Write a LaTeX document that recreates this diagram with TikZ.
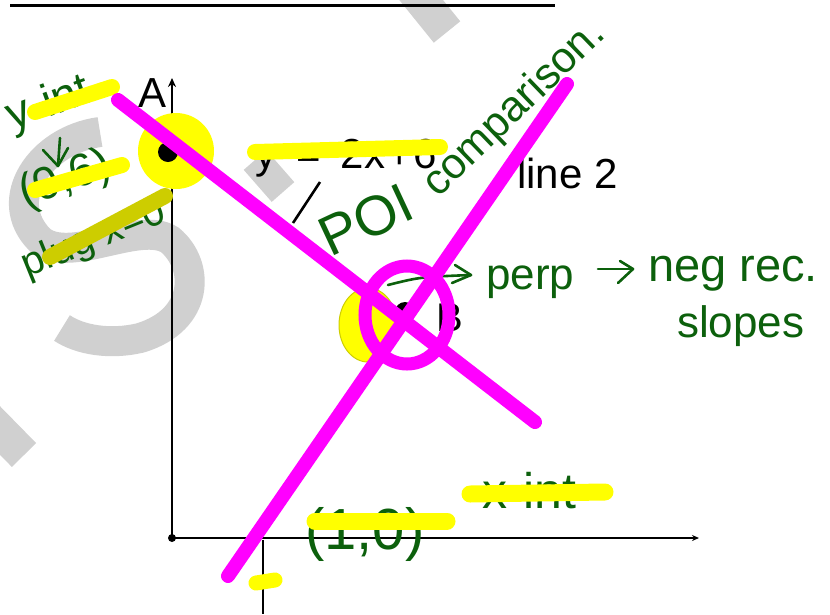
\documentclass[tikz,border=0pt]{standalone}
\usepackage{fontspec}
\setmainfont{Liberation Sans}
\usetikzlibrary{arrows.meta}
\definecolor{hw}{RGB}{12,96,12}
\definecolor{mag}{RGB}{255,0,255}
\definecolor{hl}{RGB}{255,255,0}
\definecolor{hldark}{RGB}{205,205,0}
\definecolor{wm}{RGB}{208,208,208}
\newcommand{\hwsize}[1]{\fontsize{#1}{#1}\selectfont}
\begin{document}
\begin{tikzpicture}[x=1pt,y=-1pt,
  wmark/.style={line width=30pt,color=wm},
  axisline/.style={line width=2.6pt,black},
  hilite/.style={line width=16pt,color=hl,line cap=round},
  magline/.style={line width=14pt,color=mag,line cap=round},
  hwtext/.style={text=hw,inner sep=0pt,anchor=base west},
  hwpen/.style={line width=2.6pt,color=hw,line cap=round,line join=round},
  lbl/.style={inner sep=0pt,anchor=base west,text=black}]
\useasboundingbox (0,0) rectangle (830,614);
\fill[white] (0,0) rectangle (830,614);
% watermark
\draw[wmark] (100,132) .. controls (40,140) and (0,200) .. (40,240)
  .. controls (70,265) and (140,220) .. (170,240)
  .. controls (200,265) and (200,320) .. (140,338)
  .. controls (110,345) and (80,340) .. (62,328);
\draw[wmark,line width=34pt] (405,-20) -- (447,32);
\draw[wmark,line width=34pt] (-25,405) -- (24,455);
\draw[wmark,line width=30pt] (255,160) -- (283,192);
% graph
\draw[line width=3pt] (10,5) -- (555,5);
\coordinate (O) at (172,538);
\coordinate (ytop) at (172,78);
\coordinate (xend) at (699,538);
\draw[axisline,-{Stealth[length=9pt,width=8pt]}] (O) -- (ytop);
\draw[axisline,-{Stealth[length=7pt,width=6pt]}] (O) -- (xend);
\fill (O) circle (4);
\coordinate (t1) at (263,540);
\coordinate (t2) at (263,614);
\draw[axisline] (t1) -- (t2);
\coordinate (s1) at (320,182);
\coordinate (s2) at (293,223);
\draw[axisline] (s1) -- (s2);
\node[lbl,font=\hwsize{42}] (Alab) at (138,107) {A};
\node[lbl,font=\hwsize{42}] (l2lab) at (517,188) {line 2};
\node[lbl,font=\hwsize{40}] (Blab) at (436,331) {B};
\node[lbl,font=\hwsize{42}] (eqlab) at (255,168) {y\hspace{20pt}=\hspace{20pt}2x\hspace{2pt}+\hspace{2pt}6};
% handwriting
\node[hwtext,font=\hwsize{46},rotate=20] (yint) at (12,131) {y-int};
\draw[hwpen] (60,138) -- (58,166);
\draw[hwpen] (43,150) -- (58,166) -- (68,148);
\node[hwtext,font=\hwsize{46},rotate=20] (pt06) at (25,208) {(0,6)};
\node[hwtext,font=\hwsize{40},rotate=22] (plug) at (27,278) {plug x=0};
\node[hwtext,font=\hwsize{56},rotate=25] (poi) at (330,258) {POI};
\node[hwtext,font=\hwsize{43},rotate=44] (comp) at (438,199) {comparison.};
\coordinate (a1) at (388,285);
\coordinate (a2) at (471,275);
\draw[hwpen] (a1) .. controls (420,277) .. (a2);
\draw[hwpen] (455,265) -- (a2) -- (452,283);
\node[hwtext,font=\hwsize{44}] (perp) at (486,289) {perp};
\coordinate (b1) at (598,269);
\coordinate (b2) at (633,269);
\draw[hwpen] (b1) -- (b2);
\draw[hwpen] (620,261) -- (b2) -- (618,283);
\node[hwtext,font=\hwsize{47}] (neg) at (648,281) {neg rec.};
\node[hwtext,font=\hwsize{44}] (slopes) at (677,337) {slopes};
\node[hwtext,font=\hwsize{58}] (pt10) at (305,549) {(1,0)};
\node[hwtext,font=\hwsize{50}] (xint) at (482,508) {x-int};
% highlights
\fill[hl] (176,151) circle (38);
\filldraw[fill=hl,draw=hldark,line width=1pt] (368,325) ellipse (29 and 37);
\draw[hilite] (35,112) -- (112,87);
\draw[hilite] (35,190) -- (122,165);
\draw[hilite,color=hldark] (50,257) -- (165,196);
\draw[hilite] (255,152) -- (440,147);
\draw[hilite,line width=17pt] (315,521) -- (447,521);
\draw[hilite,line width=17pt] (470,494) -- (605,492);
\draw[hilite,line width=15pt] (256,583) -- (275,580);
% points
\fill (168,152) circle (10);
\fill (405,312) circle (10);
% magenta
\coordinate (m1a) at (118,100);
\coordinate (m1b) at (535,422);
\coordinate (m2a) at (567,84);
\coordinate (m2b) at (228,576);
\draw[magline] (m1a) -- (m1b);
\draw[magline] (m2a) -- (m2b);
\draw[color=mag,line width=13pt] (407,315) ellipse (42 and 49);
\end{tikzpicture}
\end{document}
